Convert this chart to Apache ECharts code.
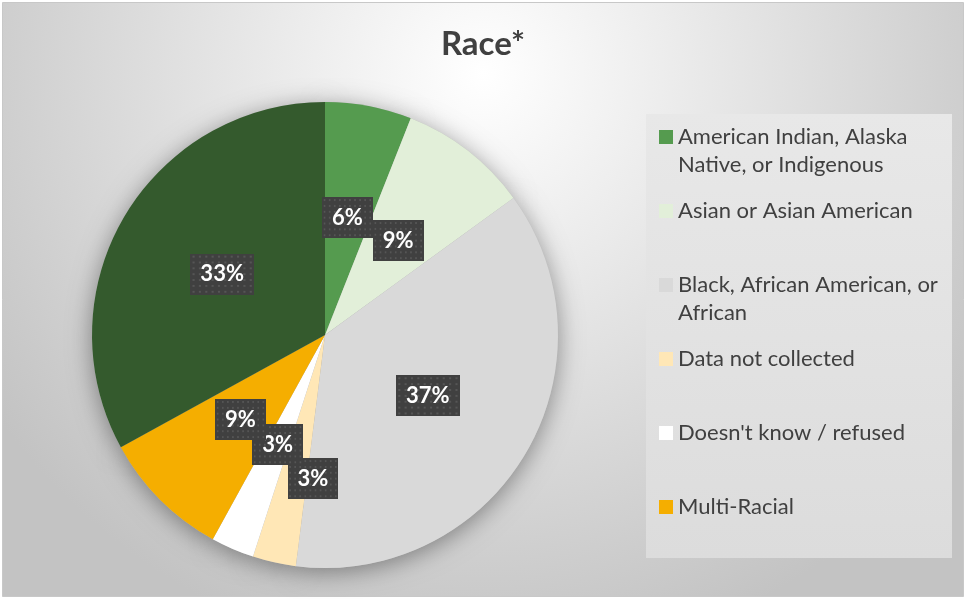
<!DOCTYPE html>
<html>
<head>
<meta charset="utf-8">
<title>Race*</title>
<script src="https://cdn.jsdelivr.net/npm/echarts@6/dist/echarts.min.js"></script>
<style>
  html, body { margin: 0; padding: 0; background: #ffffff; }
  #chart { width: 966px; height: 599px; }
</style>
</head>
<body>
<div id="chart"></div>
<script>
// Race breakdown (percent of respondents)
const categories = [
  'American Indian, Alaska Native, or Indigenous',
  'Asian or Asian American',
  'Black, African American, or African',
  'Data not collected',
  "Doesn't know / refused",
  'Multi-Racial',
  'White'
];
const values = [6, 9, 37, 3, 3, 9, 33];
const sliceColors = ['#559b4f', '#e2efd9', '#d9d9d9', '#ffe7b6', '#ffffff', '#f5ae00', '#345a2d'];
// Only the first six categories appear in the legend panel, wrapped as shown
const legendNames = categories.slice(0, 6);
const legendLabels = [
  'American Indian, Alaska\nNative, or Indigenous',
  'Asian or Asian American',
  'Black, African American, or\nAfrican',
  'Data not collected',
  "Doesn't know / refused",
  'Multi-Racial'
];

const FONT = 'Lato, "Open Sans", sans-serif';

// Small dotted texture used behind the data labels
function dotTexture() {
  const c = document.createElement('canvas');
  c.width = 60; c.height = 42;
  const g = c.getContext('2d');
  g.fillStyle = '#404040';
  g.fillRect(0, 0, c.width, c.height);
  g.fillStyle = '#555555';
  for (let y = 2; y < c.height; y += 6) {
    for (let x = 2; x < c.width; x += 6) {
      g.fillRect(x, y, 2, 2);
    }
  }
  return c;
}

const chart = echarts.init(document.getElementById('chart'), null, { renderer: 'canvas' });

const seriesData = categories.map((name, i) => ({
  name: name,
  value: values[i],
  itemStyle: { color: sliceColors[i] }
}));

chart.setOption({
  animation: false,
  backgroundColor: '#ffffff',
  graphic: [
    {
      type: 'rect',
      z: -10,
      silent: true,
      shape: { x: 2.5, y: 2.5, width: 961, height: 594 },
      style: {
        fill: new echarts.graphic.RadialGradient(0.5, 0.12, 1.0, [
          { offset: 0, color: '#ffffff' },
          { offset: 1, color: '#c3c3c3' }
        ]),
        stroke: '#c8c8c8',
        lineWidth: 1
      }
    },
    {
      type: 'rect',
      z: -5,
      silent: true,
      shape: { x: 646, y: 114, width: 306, height: 444 },
      style: {
        fill: new echarts.graphic.LinearGradient(0, 0, 0, 1, [
          { offset: 0, color: '#e8e8e8' },
          { offset: 1, color: '#dcdcdc' }
        ])
      }
    }
  ],
  title: {
    text: 'Race*',
    left: 'center',
    top: 23,
    textStyle: {
      fontFamily: FONT,
      fontSize: 33,
      fontWeight: 'bold',
      color: '#404040'
    }
  },
  legend: {
    data: legendNames,
    orient: 'vertical',
    left: 659,
    top: 95,
    padding: 0,
    itemGap: -10,
    itemWidth: 14,
    itemHeight: 14,
    icon: 'rect',
    selectedMode: false,
    // a blank first line keeps the marker level with the label's first line
    formatter: function (name) {
      const label = legendLabels[legendNames.indexOf(name)];
      const oneLine = label.indexOf('\n') < 0;
      return '\n' + label + (oneLine ? '\n' : '');
    },
    textStyle: {
      fontFamily: FONT,
      fontSize: 22,
      color: '#404040',
      lineHeight: 28
    }
  },
  series: [
    {
      // soft drop shadow beneath the pie
      type: 'pie',
      silent: true,
      z: 1,
      center: [325, 335],
      radius: 233,
      data: values.map(v => ({ value: v })),
      label: { show: false },
      labelLine: { show: false },
      itemStyle: {
        color: '#bbbbbb',
        shadowBlur: 24,
        shadowColor: 'rgba(0,0,0,0.4)',
        shadowOffsetY: 4
      },
      emphasis: { disabled: true }
    },
    {
      type: 'pie',
      z: 2,
      center: [325, 335],
      radius: 233,
      startAngle: 90,
      clockwise: true,
      data: seriesData,
      itemStyle: { borderWidth: 0 },
      emphasis: { disabled: true },
      label: {
        show: true,
        position: 'inside',
        formatter: p => p.value + '%',
        fontFamily: FONT,
        fontSize: 22,
        fontWeight: 'bold',
        color: '#ffffff',
        lineHeight: 26,
        padding: [8, 10, 7, 10],
        backgroundColor: { image: dotTexture() },
        shadowBlur: 7,
        shadowOffsetX: 3,
        shadowOffsetY: 4,
        shadowColor: 'rgba(0,0,0,0.45)'
      },
      labelLayout: function (params) {
        // nudge the small "Data not collected" label off its neighbour
        if (params.dataIndex === 3) {
          return { dx: 14, dy: 27 };
        }
      },
      labelLine: { show: false }
    }
  ]
});
</script>
</body>
</html>
